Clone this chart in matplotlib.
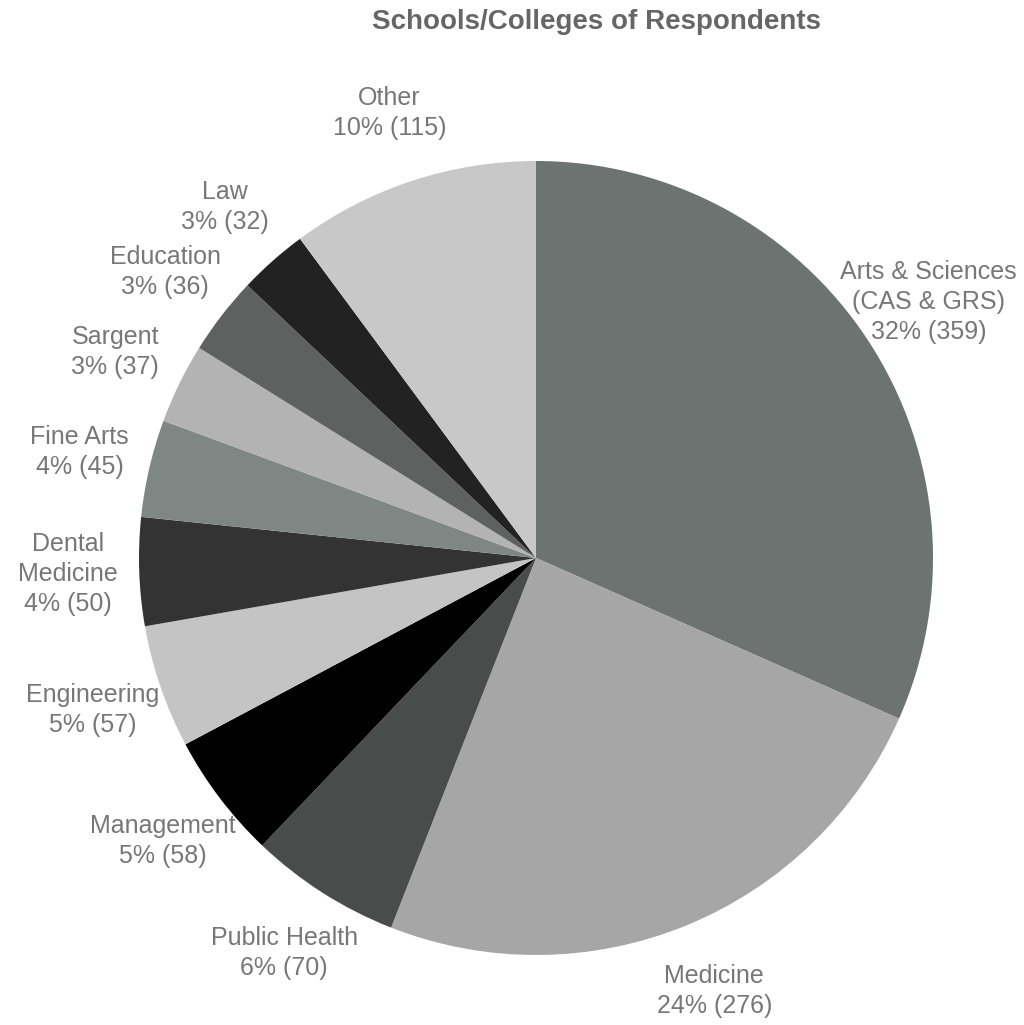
import matplotlib
matplotlib.use('Agg')
import matplotlib.pyplot as plt

# data
schools = ['Arts & Sciences\n(CAS & GRS)', 'Medicine', 'Public Health', 'Management',
           'Engineering', 'Dental\nMedicine', 'Fine Arts', 'Sargent', 'Education',
           'Law', 'Other']
counts = [359, 276, 70, 58, 57, 50, 45, 37, 36, 32, 115]
percents = [32, 24, 6, 5, 5, 4, 4, 3, 3, 3, 10]
colors = ['#6d7370', '#a6a6a6', '#484c4b', '#000000', '#c4c4c4', '#333333',
          '#7f8784', '#b3b3b3', '#5e6160', '#222222', '#c8c8c8']

labels = [f'{s}\n{p}% ({c})' for s, p, c in zip(schools, percents, counts)]

plt.rcParams['font.family'] = ['Liberation Sans', 'DejaVu Sans']

fig = plt.figure(figsize=(10.24, 10.25), dpi=100)
cx, cy, r = 536, 558, 397
ax = fig.add_axes([(cx - r) / 1024, (1025 - cy - r) / 1025, 2 * r / 1024, 2 * r / 1025])

wedges, texts = ax.pie(counts, labels=labels, colors=colors, startangle=90,
                       counterclock=False, labeldistance=1.18,
                       textprops={'fontsize': 18, 'color': '#777777'})
for t in texts:
    t.set_horizontalalignment('center')
    t.set_verticalalignment('center')
    t.set_linespacing(1.32)

ax.set_xlim(-1, 1)
ax.set_ylim(-1, 1)
ax.set_aspect('equal')

fig.text(596 / 1024, 1 - 22 / 1025, 'Schools/Colleges of Respondents', ha='center', va='center',
         fontsize=20, fontweight='bold', color='#666666')

fig.savefig('out.png', dpi=100)
